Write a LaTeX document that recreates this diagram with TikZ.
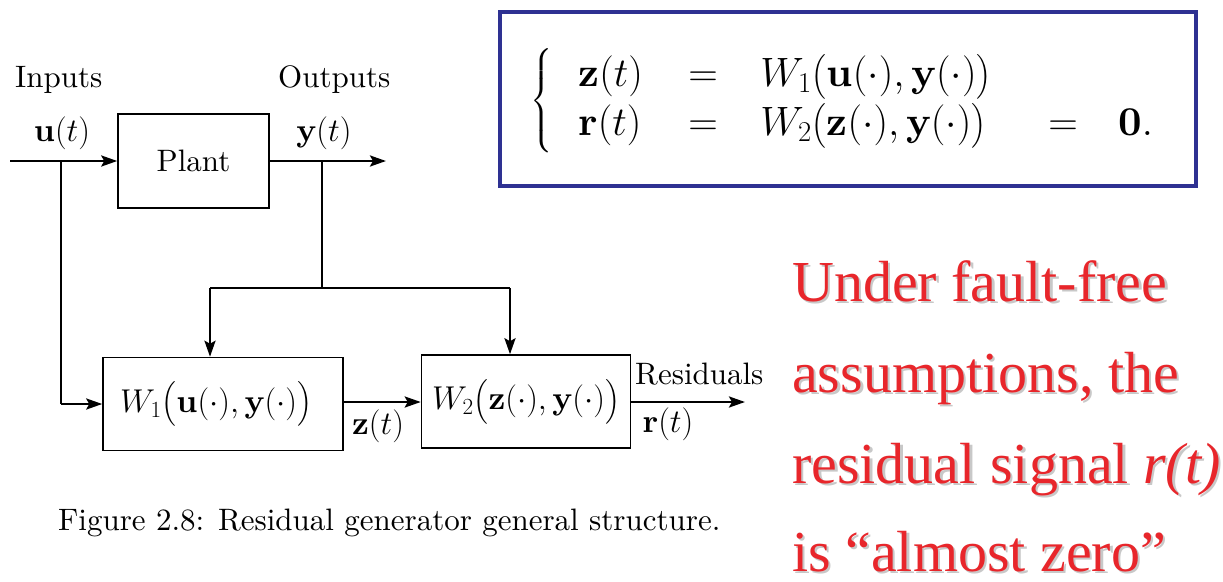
\RequirePackage{fix-cm}
\documentclass[tikz,border=0pt]{standalone}
\usepackage{amsmath}
\usepackage{fontspec}
\setmainfont{lmroman10-regular.otf}[BoldFont=lmroman10-bold.otf,ItalicFont=lmroman10-italic.otf,BoldItalicFont=lmroman10-bolditalic.otf]
\usetikzlibrary{arrows.meta}
\newfontfamily\tnr{Liberation Serif}
\definecolor{eqblue}{HTML}{2E3192}
\definecolor{redtxt}{HTML}{E8262B}
\definecolor{shadowgray}{HTML}{C8C8C8}
\newcommand\eqcell[2]{\makebox[#1][l]{$#2$}}
\begin{document}
\begin{tikzpicture}[x=1pt,y=-1pt,
  blk/.style={draw=black,line width=1.5pt,inner sep=0pt,font=\fontsize{33}{40}\selectfont},
  lbl/.style={inner sep=0pt,font=\fontsize{31}{37}\selectfont},
  mlbl/.style={inner sep=0pt,font=\fontsize{33}{40}\selectfont},
  sig/.style={line width=2.6pt,-{Stealth[length=16pt,width=11pt,inset=3pt]}},
  wire/.style={line width=2.6pt},
  redline/.style={inner sep=0pt,anchor=base west,text=redtxt,font=\tnr\fontsize{58}{70}\selectfont},
  shadowline/.style={inner sep=0pt,anchor=base west,text=shadowgray,font=\tnr\fontsize{58}{70}\selectfont}]
\useasboundingbox[fill=white] (0,0) rectangle (1223,581);

% blocks
\node[blk,font=\fontsize{31}{37}\selectfont,minimum width=151pt,minimum height=94pt] (plant) at (193.5,161) {Plant};
\node[blk,minimum height=93pt,text width=206pt,inner xsep=17pt,align=left] (w1) at (223,404) {$W_1\bigl(\mathbf{u}(\cdot),\mathbf{y}(\cdot)\bigr)$};
\node[blk,minimum width=209pt,minimum height=93pt] (w2) at (526,401.5) {$W_2\bigl(\mathbf{z}(\cdot),\mathbf{y}(\cdot)\bigr)$};

% coordinates
\coordinate (in) at (10,161);
\coordinate (ubr) at (61,161);
\coordinate (ucorner) at (61,404);
\coordinate (out) at (386,161);
\coordinate (ybr) at (322,161);
\coordinate (yjoin) at (322,288);
\coordinate (lft) at (210,288);
\coordinate (rgt) at (510,288);
\coordinate (res) at (745,402);

% connectors
\draw[sig] (in) -- (plant.west);
\draw[sig] (plant.east) -- (out);
\draw[wire] (ubr) -- (ucorner);
\draw[sig] (ucorner) -- (w1.west);
\draw[wire] (ybr) -- (yjoin);
\draw[wire] (lft) -- (rgt);
\draw[sig] (lft) -- (lft |- w1.north);
\draw[sig] (rgt) -- (rgt |- w2.north);
\draw[sig] (w1.east |- 0,402) -- (w2.west |- 0,402);
\draw[sig] (w2.east |- 0,402) -- (res);

% labels
\node[lbl,anchor=base west] (inputs) at (15,87) {Inputs};
\node[lbl,anchor=base west] (outputs) at (278,87) {Outputs};
\node[mlbl,anchor=base] (ut) at (62,141) {$\mathbf{u}(t)$};
\node[mlbl,anchor=base] (yt) at (324,141) {$\mathbf{y}(t)$};
\node[mlbl,anchor=base] (zt) at (378,434) {$\mathbf{z}(t)$};
\node[mlbl,anchor=base] (rt) at (668,432) {$\mathbf{r}(t)$};
\node[lbl,anchor=base west] (resid) at (635,384) {Residuals};
\node[lbl,anchor=base west] (caption) at (58,530) {Figure 2.8: Residual generator general structure.};

% equation box
\draw[eqblue,line width=4pt,fill=white] (500,12) rectangle (1196,186);
\node[inner sep=0pt,anchor=west,font=\fontsize{41}{45}\selectfont] (eq) at (530,101)
 {$\left\{\hspace{26pt}\begin{array}{@{}l@{}l@{}l@{}l@{}l@{}}
 \eqcell{110pt}{\mathbf{z}(t)} & \eqcell{72pt}{=} & \eqcell{288pt}{W_1\bigl(\mathbf{u}(\cdot),\mathbf{y}(\cdot)\bigr)} & & \\
 \eqcell{110pt}{\mathbf{r}(t)} & \eqcell{72pt}{=} & \eqcell{288pt}{W_2\bigl(\mathbf{z}(\cdot),\mathbf{y}(\cdot)\bigr)} & \eqcell{70pt}{=} & \mathbf{0}.
 \end{array}\right.$};

% red text with shadow
\node[shadowline] (s1) at (794.5,303.5) {Under fault-free};
\node[redline] (r1) at (792,301) {Under fault-free};
\node[shadowline] (s2) at (794.5,394.5) {assumptions, the};
\node[redline] (r2) at (792,392) {assumptions, the};
\node[shadowline] (s3) at (794.5,485.5) {residual signal \textit{r(t)}};
\node[redline] (r3) at (792,483) {residual signal \textit{r(t)}};
\node[shadowline] (s4) at (794.5,573.5) {is “almost zero”};
\node[redline] (r4) at (792,571) {is “almost zero”};
\end{tikzpicture}
\end{document}
